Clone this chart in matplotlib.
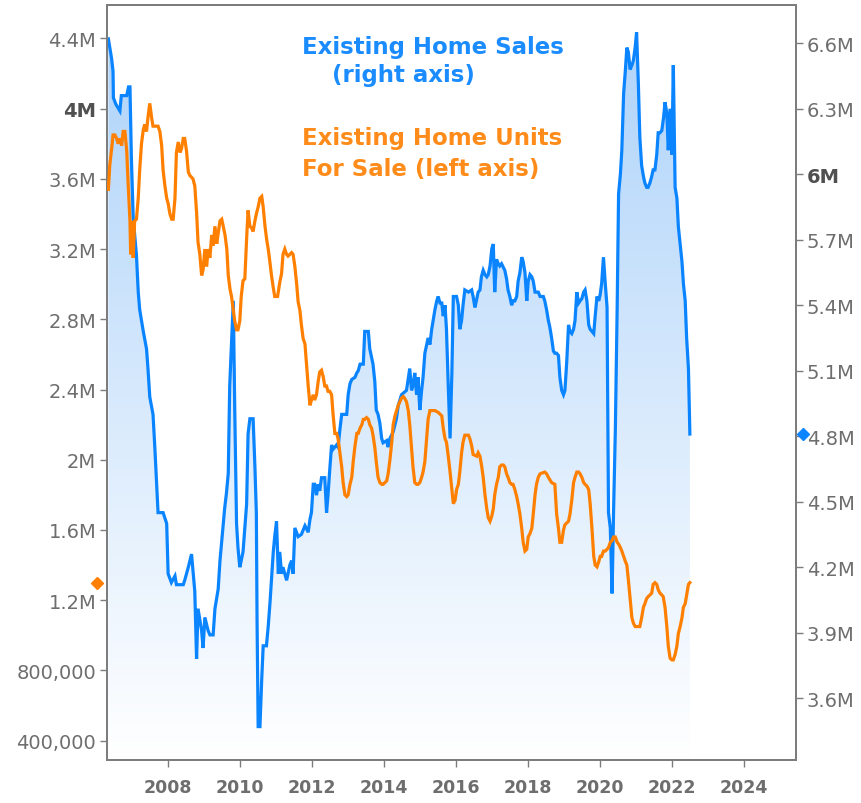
import numpy as np
import matplotlib
matplotlib.use("Agg")
import matplotlib.pyplot as plt
from matplotlib.transforms import blended_transform_factory

# Existing home sales, SAAR, millions (right axis)
sales_t = [2006.34, 2006.43, 2006.47, 2006.48, 2006.55, 2006.66, 2006.70, 2006.85, 2006.90, 2006.94,
           2006.98, 2007.03, 2007.12, 2007.17, 2007.21, 2007.31, 2007.40, 2007.44, 2007.49, 2007.58,
           2007.63, 2007.68, 2007.72, 2007.86, 2007.96, 2008.00, 2008.09, 2008.19, 2008.23, 2008.42,
           2008.46, 2008.56, 2008.65, 2008.74, 2008.79, 2008.83, 2008.93, 2008.97, 2009.02, 2009.11,
           2009.16, 2009.25, 2009.30, 2009.39, 2009.44, 2009.53, 2009.57, 2009.62, 2009.67, 2009.71,
           2009.76, 2009.81, 2009.85, 2009.90, 2009.94, 2009.99, 2010.03, 2010.08, 2010.13, 2010.18,
           2010.22, 2010.27, 2010.36, 2010.41, 2010.45, 2010.47, 2010.50, 2010.55, 2010.60, 2010.64,
           2010.73, 2010.78, 2010.83, 2010.87, 2010.92, 2010.96, 2011.01, 2011.06, 2011.10, 2011.15,
           2011.19, 2011.29, 2011.38, 2011.43, 2011.47, 2011.52, 2011.61, 2011.70, 2011.80, 2011.89,
           2011.94, 2011.98, 2012.03, 2012.07, 2012.12, 2012.17, 2012.21, 2012.26, 2012.35, 2012.40,
           2012.44, 2012.49, 2012.54, 2012.58, 2012.68, 2012.72, 2012.77, 2012.82, 2012.96, 2013.00,
           2013.05, 2013.10, 2013.19, 2013.24, 2013.28, 2013.33, 2013.42, 2013.46, 2013.56, 2013.60,
           2013.69, 2013.74, 2013.78, 2013.83, 2013.88, 2013.93, 2013.97, 2014.07, 2014.11, 2014.16,
           2014.25, 2014.34, 2014.39, 2014.48, 2014.62, 2014.71, 2014.76, 2014.80, 2014.85, 2014.90,
           2014.94, 2014.99, 2015.04, 2015.08, 2015.13, 2015.18, 2015.22, 2015.27, 2015.32, 2015.36,
           2015.41, 2015.46, 2015.50, 2015.55, 2015.60, 2015.64, 2015.69, 2015.73, 2015.78, 2015.83,
           2015.88, 2015.92, 2016.01, 2016.06, 2016.10, 2016.15, 2016.19, 2016.24, 2016.34, 2016.43,
           2016.47, 2016.52, 2016.56, 2016.61, 2016.66, 2016.70, 2016.75, 2016.80, 2016.85, 2016.89,
           2016.94, 2016.99, 2017.03, 2017.07, 2017.12, 2017.17, 2017.21, 2017.26, 2017.35, 2017.40,
           2017.44, 2017.49, 2017.54, 2017.58, 2017.63, 2017.68, 2017.72, 2017.77, 2017.82, 2017.86,
           2017.91, 2017.96, 2018.00, 2018.05, 2018.10, 2018.14, 2018.19, 2018.28, 2018.33, 2018.42,
           2018.46, 2018.51, 2018.56, 2018.60, 2018.65, 2018.70, 2018.74, 2018.79, 2018.84, 2018.88,
           2018.93, 2018.98, 2019.02, 2019.07, 2019.12, 2019.16, 2019.21, 2019.26, 2019.30, 2019.35,
           2019.40, 2019.44, 2019.49, 2019.54, 2019.58, 2019.63, 2019.68, 2019.72, 2019.77, 2019.82,
           2019.86, 2019.91, 2019.96, 2020.00, 2020.04, 2020.09, 2020.14, 2020.19, 2020.23, 2020.28,
           2020.33, 2020.37, 2020.42, 2020.47, 2020.51, 2020.56, 2020.60, 2020.65, 2020.70, 2020.74,
           2020.78, 2020.83, 2020.88, 2020.92, 2020.97, 2021.01, 2021.06, 2021.10, 2021.15, 2021.20,
           2021.24, 2021.29, 2021.33, 2021.38, 2021.43, 2021.47, 2021.52, 2021.57, 2021.61, 2021.66,
           2021.71, 2021.76, 2021.80, 2021.85, 2021.89, 2021.94, 2021.99, 2022.03, 2022.08, 2022.13,
           2022.17, 2022.22, 2022.27, 2022.31, 2022.36, 2022.40, 2022.45, 2022.49]
sales_v = [6.62, 6.53, 6.47, 6.35, 6.32, 6.29, 6.36, 6.36, 6.40, 6.40,
           6.07, 5.80, 5.63, 5.46, 5.38, 5.28, 5.20, 5.11, 4.98, 4.90,
           4.75, 4.58, 4.45, 4.45, 4.40, 4.17, 4.13, 4.16, 4.12, 4.12,
           4.14, 4.20, 4.26, 4.09, 3.78, 4.01, 3.91, 3.83, 3.97, 3.91,
           3.89, 3.89, 4.01, 4.10, 4.23, 4.40, 4.47, 4.54, 4.63, 5.03,
           5.22, 5.42, 4.92, 4.40, 4.29, 4.20, 4.23, 4.27, 4.38, 4.49,
           4.81, 4.88, 4.88, 4.66, 4.45, 3.95, 3.47, 3.47, 3.69, 3.84,
           3.84, 3.93, 4.04, 4.14, 4.27, 4.34, 4.41, 4.17, 4.27, 4.17,
           4.20, 4.14, 4.21, 4.23, 4.17, 4.38, 4.34, 4.35, 4.39, 4.36,
           4.42, 4.45, 4.58, 4.58, 4.53, 4.58, 4.55, 4.61, 4.61, 4.45,
           4.53, 4.65, 4.76, 4.74, 4.76, 4.75, 4.83, 4.90, 4.90, 4.99,
           5.04, 5.06, 5.07, 5.09, 5.10, 5.13, 5.13, 5.28, 5.28, 5.20,
           5.13, 5.05, 4.92, 4.90, 4.86, 4.79, 4.77, 4.78, 4.75, 4.79,
           4.82, 4.88, 4.94, 4.99, 5.01, 5.11, 5.01, 5.03, 5.09, 4.99,
           5.07, 4.92, 5.01, 5.07, 5.18, 5.22, 5.25, 5.22, 5.29, 5.33,
           5.38, 5.42, 5.44, 5.41, 5.41, 5.35, 5.40, 5.29, 5.03, 4.79,
           5.09, 5.44, 5.44, 5.40, 5.29, 5.33, 5.40, 5.47, 5.46, 5.47,
           5.44, 5.39, 5.42, 5.46, 5.47, 5.53, 5.56, 5.54, 5.53, 5.54,
           5.58, 5.66, 5.68, 5.46, 5.61, 5.59, 5.58, 5.59, 5.56, 5.52,
           5.47, 5.44, 5.40, 5.42, 5.42, 5.44, 5.51, 5.55, 5.62, 5.60,
           5.55, 5.42, 5.51, 5.54, 5.53, 5.51, 5.46, 5.46, 5.44, 5.44,
           5.42, 5.38, 5.33, 5.30, 5.25, 5.19, 5.18, 5.18, 5.17, 5.07,
           5.01, 4.99, 5.01, 5.14, 5.31, 5.28, 5.27, 5.29, 5.33, 5.46,
           5.41, 5.42, 5.43, 5.46, 5.47, 5.42, 5.31, 5.29, 5.28, 5.27,
           5.35, 5.44, 5.42, 5.45, 5.50, 5.62, 5.50, 5.39, 4.45, 4.38,
           4.08, 4.45, 4.83, 5.38, 5.91, 6.00, 6.11, 6.37, 6.48, 6.58,
           6.56, 6.48, 6.50, 6.52, 6.58, 6.65, 6.41, 6.17, 6.04, 5.99,
           5.96, 5.94, 5.94, 5.96, 5.99, 6.02, 6.02, 6.09, 6.19, 6.19,
           6.20, 6.26, 6.33, 6.28, 6.11, 6.30, 6.09, 6.50, 5.94, 5.89,
           5.76, 5.68, 5.60, 5.50, 5.42, 5.25, 5.11, 4.81]

# Existing home units for sale, millions (left axis)
units_t = [2006.34, 2006.38, 2006.43, 2006.47, 2006.52, 2006.57, 2006.61, 2006.66, 2006.71, 2006.75,
           2006.80, 2006.85, 2006.89, 2006.94, 2006.96, 2007.00, 2007.03, 2007.07, 2007.12, 2007.17,
           2007.21, 2007.26, 2007.31, 2007.35, 2007.40, 2007.44, 2007.49, 2007.54, 2007.58, 2007.72,
           2007.77, 2007.82, 2007.86, 2007.91, 2007.96, 2008.00, 2008.05, 2008.10, 2008.14, 2008.19,
           2008.23, 2008.28, 2008.33, 2008.37, 2008.42, 2008.46, 2008.51, 2008.56, 2008.60, 2008.69,
           2008.74, 2008.79, 2008.83, 2008.88, 2008.93, 2008.97, 2009.02, 2009.07, 2009.11, 2009.16,
           2009.21, 2009.25, 2009.30, 2009.35, 2009.39, 2009.44, 2009.49, 2009.53, 2009.58, 2009.63,
           2009.67, 2009.72, 2009.76, 2009.81, 2009.85, 2009.90, 2009.94, 2009.99, 2010.03, 2010.08,
           2010.13, 2010.18, 2010.22, 2010.27, 2010.32, 2010.36, 2010.41, 2010.45, 2010.50, 2010.55,
           2010.60, 2010.64, 2010.69, 2010.74, 2010.78, 2010.83, 2010.87, 2010.92, 2010.96, 2011.04,
           2011.10, 2011.15, 2011.19, 2011.24, 2011.29, 2011.33, 2011.38, 2011.43, 2011.47, 2011.52,
           2011.57, 2011.61, 2011.66, 2011.70, 2011.75, 2011.80, 2011.84, 2011.89, 2011.94, 2011.98,
           2012.03, 2012.07, 2012.12, 2012.17, 2012.21, 2012.26, 2012.31, 2012.35, 2012.40, 2012.44,
           2012.49, 2012.54, 2012.58, 2012.63, 2012.68, 2012.72, 2012.77, 2012.82, 2012.86, 2012.91,
           2012.96, 2013.00, 2013.05, 2013.10, 2013.14, 2013.19, 2013.24, 2013.28, 2013.33, 2013.38,
           2013.42, 2013.46, 2013.51, 2013.56, 2013.60, 2013.65, 2013.69, 2013.74, 2013.78, 2013.83,
           2013.88, 2013.93, 2013.97, 2014.02, 2014.07, 2014.11, 2014.16, 2014.21, 2014.25, 2014.30,
           2014.39, 2014.48, 2014.53, 2014.57, 2014.62, 2014.67, 2014.71, 2014.76, 2014.80, 2014.85,
           2014.90, 2014.94, 2014.99, 2015.04, 2015.08, 2015.13, 2015.18, 2015.22, 2015.27, 2015.32,
           2015.41, 2015.50, 2015.55, 2015.60, 2015.64, 2015.69, 2015.73, 2015.78, 2015.83, 2015.88,
           2015.92, 2015.97, 2016.01, 2016.06, 2016.10, 2016.15, 2016.19, 2016.24, 2016.34, 2016.38,
           2016.43, 2016.47, 2016.57, 2016.61, 2016.66, 2016.71, 2016.75, 2016.80, 2016.85, 2016.89,
           2016.94, 2016.99, 2017.03, 2017.07, 2017.12, 2017.17, 2017.21, 2017.26, 2017.31, 2017.35,
           2017.40, 2017.44, 2017.49, 2017.54, 2017.58, 2017.63, 2017.68, 2017.72, 2017.77, 2017.82,
           2017.86, 2017.91, 2017.96, 2018.00, 2018.05, 2018.10, 2018.14, 2018.19, 2018.23, 2018.28,
           2018.33, 2018.46, 2018.51, 2018.56, 2018.65, 2018.74, 2018.79, 2018.84, 2018.88, 2018.93,
           2018.98, 2019.02, 2019.07, 2019.12, 2019.16, 2019.21, 2019.26, 2019.30, 2019.35, 2019.40,
           2019.44, 2019.49, 2019.54, 2019.58, 2019.63, 2019.68, 2019.72, 2019.77, 2019.82, 2019.86,
           2019.91, 2019.96, 2020.00, 2020.04, 2020.09, 2020.14, 2020.19, 2020.23, 2020.28, 2020.33,
           2020.37, 2020.42, 2020.47, 2020.51, 2020.56, 2020.60, 2020.65, 2020.70, 2020.74, 2020.78,
           2020.83, 2020.88, 2020.92, 2020.97, 2021.10, 2021.15, 2021.20, 2021.24, 2021.29, 2021.33,
           2021.38, 2021.43, 2021.47, 2021.52, 2021.57, 2021.61, 2021.66, 2021.71, 2021.75, 2021.80,
           2021.85, 2021.89, 2021.94, 2021.99, 2022.03, 2022.08, 2022.13, 2022.17, 2022.22, 2022.27,
           2022.31, 2022.36, 2022.40, 2022.45, 2022.49]
units_v = [3.54, 3.68, 3.77, 3.85, 3.85, 3.83, 3.80, 3.83, 3.79, 3.87,
           3.87, 3.76, 3.57, 3.36, 3.17, 3.36, 3.15, 3.36, 3.37, 3.49,
           3.65, 3.80, 3.88, 3.91, 3.87, 3.95, 4.03, 3.95, 3.90, 3.90,
           3.87, 3.79, 3.65, 3.56, 3.49, 3.46, 3.40, 3.37, 3.37, 3.49,
           3.75, 3.81, 3.75, 3.77, 3.83, 3.83, 3.76, 3.64, 3.62, 3.60,
           3.56, 3.41, 3.24, 3.17, 3.05, 3.08, 3.20, 3.10, 3.20, 3.15,
           3.28, 3.22, 3.33, 3.23, 3.29, 3.36, 3.37, 3.33, 3.28, 3.20,
           3.05, 2.97, 2.93, 2.85, 2.79, 2.74, 2.74, 2.79, 2.93, 3.02,
           3.03, 3.26, 3.42, 3.33, 3.32, 3.30, 3.36, 3.40, 3.44, 3.49,
           3.50, 3.44, 3.33, 3.25, 3.20, 3.12, 3.05, 2.98, 2.93, 2.93,
           3.01, 3.06, 3.17, 3.20, 3.17, 3.16, 3.17, 3.18, 3.17, 3.10,
           3.00, 2.90, 2.85, 2.77, 2.69, 2.66, 2.55, 2.42, 2.31, 2.34,
           2.37, 2.34, 2.37, 2.45, 2.50, 2.51, 2.47, 2.42, 2.42, 2.39,
           2.39, 2.37, 2.26, 2.15, 2.15, 2.12, 2.04, 1.96, 1.87, 1.80,
           1.79, 1.80, 1.86, 1.90, 1.99, 2.08, 2.15, 2.15, 2.18, 2.20,
           2.23, 2.23, 2.24, 2.23, 2.20, 2.18, 2.14, 2.07, 1.99, 1.90,
           1.87, 1.86, 1.86, 1.87, 1.88, 1.92, 2.00, 2.10, 2.20, 2.25,
           2.31, 2.35, 2.36, 2.35, 2.33, 2.28, 2.20, 2.07, 1.96, 1.87,
           1.86, 1.86, 1.87, 1.90, 1.93, 1.99, 2.12, 2.23, 2.28, 2.28,
           2.28, 2.27, 2.26, 2.25, 2.18, 2.12, 2.10, 2.02, 1.93, 1.83,
           1.75, 1.77, 1.83, 1.86, 1.93, 2.04, 2.10, 2.14, 2.14, 2.12,
           2.08, 2.03, 2.02, 2.04, 2.02, 1.96, 1.90, 1.80, 1.72, 1.67,
           1.65, 1.68, 1.72, 1.80, 1.86, 1.90, 1.96, 1.97, 1.97, 1.96,
           1.92, 1.90, 1.87, 1.86, 1.86, 1.83, 1.79, 1.75, 1.69, 1.61,
           1.53, 1.48, 1.49, 1.56, 1.58, 1.61, 1.69, 1.80, 1.86, 1.90,
           1.92, 1.93, 1.92, 1.90, 1.87, 1.86, 1.69, 1.61, 1.53, 1.53,
           1.60, 1.63, 1.64, 1.65, 1.69, 1.77, 1.87, 1.90, 1.93, 1.93,
           1.92, 1.90, 1.87, 1.86, 1.85, 1.83, 1.75, 1.61, 1.45, 1.40,
           1.39, 1.42, 1.45, 1.45, 1.48, 1.48, 1.49, 1.50, 1.53, 1.54,
           1.56, 1.56, 1.53, 1.52, 1.50, 1.48, 1.45, 1.42, 1.40, 1.32,
           1.21, 1.10, 1.07, 1.05, 1.05, 1.10, 1.16, 1.18, 1.21, 1.22,
           1.23, 1.24, 1.29, 1.30, 1.29, 1.26, 1.24, 1.23, 1.22, 1.16,
           1.05, 0.94, 0.87, 0.86, 0.86, 0.89, 0.94, 1.01, 1.05, 1.10,
           1.16, 1.18, 1.23, 1.29, 1.30]

left_ticks = [0.4e6, 0.8e6, 1.2e6, 1.6e6, 2.0e6, 2.4e6, 2.8e6, 3.2e6, 3.6e6, 4.0e6, 4.4e6]
left_labels = ["400,000", "800,000", "1.2M", "1.6M", "2M", "2.4M", "2.8M", "3.2M", "3.6M", "4M", "4.4M"]
right_ticks = [3.6e6, 3.9e6, 4.2e6, 4.5e6, 4.8e6, 5.1e6, 5.4e6, 5.7e6, 6.0e6, 6.3e6, 6.6e6]
right_labels = ["3.6M", "3.9M", "4.2M", "4.5M", "4.8M", "5.1M", "5.4M", "5.7M", "6M", "6.3M", "6.6M"]
x_ticks = [2008, 2010, 2012, 2014, 2016, 2018, 2020, 2022, 2024]

BLUE = "#0a84ff"
ORANGE = "#ff8000"
GRAY = "#6e6e6e"
SPINE = "#7d7d7d"

st = np.array(sales_t)
sv = np.array(sales_v) * 1e6
ut = np.array(units_t)
uv = np.array(units_v) * 1e6

fig = plt.figure(figsize=(8.61, 8.04), dpi=100)
ax = fig.add_axes([0.1246, 0.0535, 0.7996, 0.939])
ax2 = ax.twinx()

xlim = (2006.31, 2025.43)
r_lim = (3.317e6, 6.775e6)
l_lim = (0.29e6, 4.59e6)

# gradient fill under the sales line
poly = ax2.fill_between(st, sv, r_lim[0], facecolor="none", edgecolor="none")
top = np.array([172, 210, 250]) / 255.0
bot = np.array([255, 255, 255]) / 255.0
f = np.linspace(0, 1, 256)[:, None]
grad = (top * f + bot * (1 - f))[::-1].reshape(256, 1, 3)
im = ax2.imshow(grad, extent=[xlim[0], xlim[1], r_lim[0], r_lim[1]],
                aspect="auto", origin="upper", zorder=1, interpolation="bilinear")
im.set_clip_path(poly.get_paths()[0], transform=ax2.transData)

ax2.plot(st, sv, color=BLUE, lw=2.3, zorder=3, solid_joinstyle="miter")
ax.plot(ut, uv, color=ORANGE, lw=2.3, zorder=3, solid_joinstyle="miter")

ax.set_zorder(ax2.get_zorder() + 1)
ax.patch.set_visible(False)

ax.set_xlim(*xlim)
ax2.set_xlim(*xlim)
ax.set_ylim(*l_lim)
ax2.set_ylim(*r_lim)

ax.set_yticks(left_ticks)
ax.set_yticklabels(left_labels)
ax2.set_yticks(right_ticks)
ax2.set_yticklabels(right_labels)
ax.set_xticks(x_ticks)
ax.set_xticklabels([str(x) for x in x_ticks])

for a in (ax, ax2):
    for s in a.spines.values():
        s.set_color(SPINE)
        s.set_linewidth(1.4)
ax.tick_params(axis="y", length=5, width=1, color=SPINE, labelsize=14, labelcolor=GRAY, pad=3)
ax2.tick_params(axis="y", length=5, width=1, color=SPINE, labelsize=14, labelcolor=GRAY, pad=3)
ax.tick_params(axis="x", length=5, width=1, color=SPINE, labelsize=12.5, labelcolor=GRAY, pad=8)
for lab in ax.get_xticklabels():
    lab.set_fontweight("bold")
for lab in ax.get_yticklabels() + ax2.get_yticklabels():
    if lab.get_text() in ("4M", "6M"):
        lab.set_fontweight("bold")
        lab.set_color("#505050")

# last-value markers just outside the axes
tl = blended_transform_factory(ax.transAxes, ax.transData)
ax.plot([-0.015], [uv[-1]], marker="D", ms=6.5, color=ORANGE, transform=tl, clip_on=False)
tr = blended_transform_factory(ax2.transAxes, ax2.transData)
ax2.plot([1.0106], [sv[-1]], marker="D", ms=6.5, color=BLUE, transform=tr, clip_on=False)

W, H = 861.0, 804.0
kw = dict(fontsize=16.5, fontweight="bold", va="baseline", ha="left")
fig.text(301.7 / W, 1 - 54 / H, "Existing Home Sales", color="#1a8cff", **kw)
fig.text(331.7 / W, 1 - 82 / H, "(right axis)", color="#1a8cff", **kw)
fig.text(301.7 / W, 1 - 145 / H, "Existing Home Units", color="#ff8c1a", **kw)
fig.text(301.7 / W, 1 - 176 / H, "For Sale (left axis)", color="#ff8c1a", **kw)

fig.savefig("out.png", dpi=100)
